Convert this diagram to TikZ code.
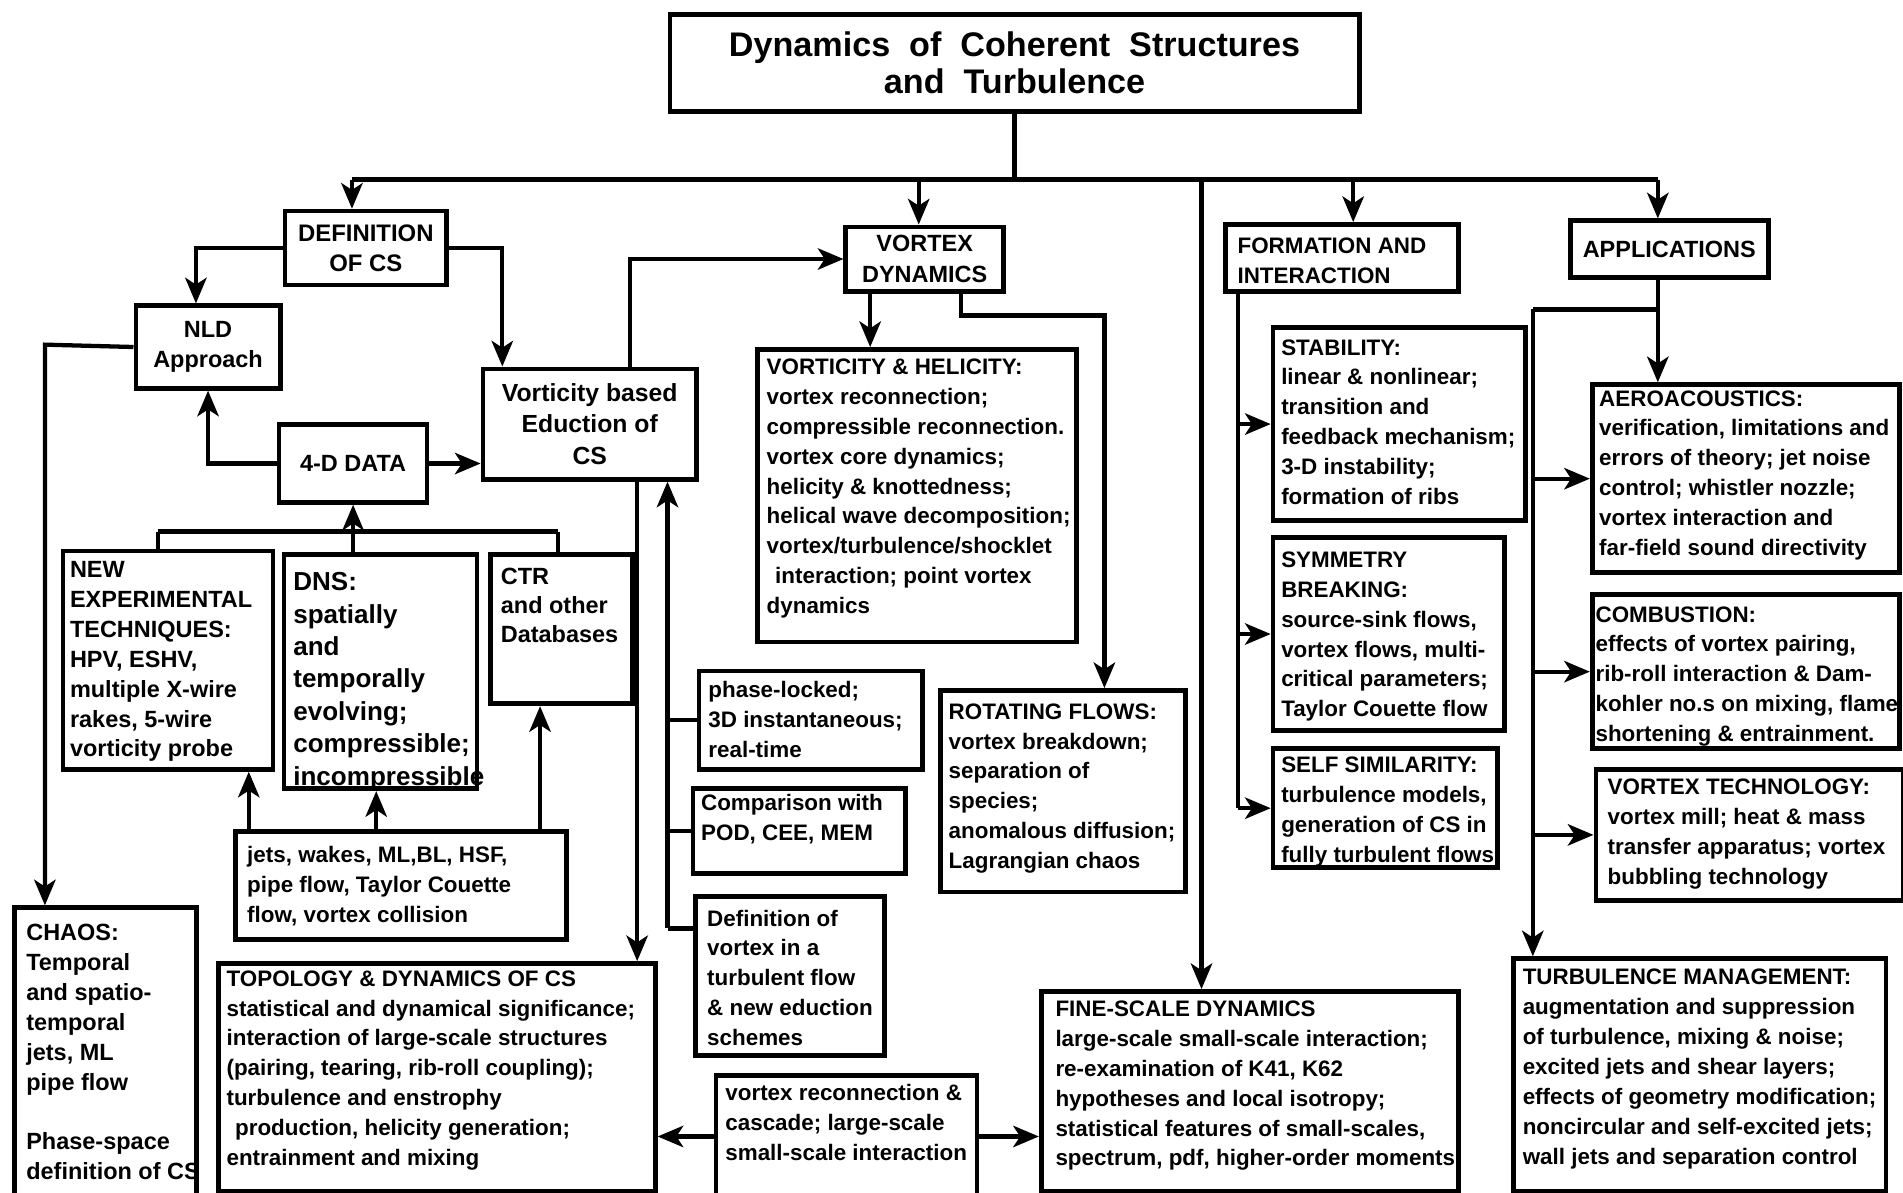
\documentclass[tikz,border=0pt]{standalone}
\usepackage{fontspec}
\setmainfont{Liberation Sans}
\usetikzlibrary{arrows.meta}
\newcommand\mybx[7]{\node[boxs,#2,minimum width={(#5-#3)*0.01cm},minimum height={(#6-#4)*0.01cm}] (#1) at (#3,#4) {#7};}
\begin{document}
\begin{tikzpicture}[x=0.01cm,y=-0.01cm,
  boxs/.style={draw, line width=1.1pt, anchor=north west, inner sep=0pt, align=center,
    font=\fontsize{5.5}{7.1}\selectfont\bfseries},
  txt/.style={anchor=north west, inner sep=0pt, align=left,
    font=\fontsize{5.25}{7}\selectfont\bfseries},
  ln/.style={line width=1pt},
  arr/.style={line width=1pt, -{Stealth[length=6pt,width=5pt,inset=1.6pt]}},
]
\useasboundingbox (0,0) rectangle (1568,983);
\fill[white] (0,0) rectangle (1568,983);
\clip (0,0) rectangle (1568,983);

% ---------- boxes ----------
\mybx{title}{font=\fontsize{8}{8.6}\selectfont\bfseries}{550}{10}{1118}{90}{Dynamics \ of \ Coherent \ Structures\\and \ Turbulence}
\mybx{def}{font=\fontsize{5.6}{7.1}\selectfont\bfseries}{233}{172}{366}{233}{DEFINITION\\OF CS}
\mybx{nld}{}{110}{250}{229}{318}{NLD\\Approach}
\mybx{data}{}{228}{348}{350}{412}{4-D DATA}
\mybx{veduc}{font=\fontsize{5.8}{7.3}\selectfont\bfseries}{396}{302}{572}{393}{Vorticity based\\Eduction of\\CS}
\mybx{vdyn}{}{695}{185}{825}{238}{VORTEX\\DYNAMICS}
\mybx{form}{}{1008}{183}{1200}{238}{}
\mybx{appl}{}{1292}{180}{1455}{227}{APPLICATIONS}
\mybx{newexp}{}{50}{452}{223}{632}{}
\mybx{dns}{}{232}{455}{391}{648}{}
\mybx{ctr}{}{402}{455}{519}{578}{}
\mybx{jets}{}{192}{683}{465}{772}{}
\mybx{chaos}{}{10}{746}{160}{995}{}
\mybx{topo}{}{178}{792}{538}{980}{}
\mybx{phase}{}{574}{551}{758}{632}{}
\mybx{comp}{}{569}{648}{744}{718}{}
\mybx{defv}{}{571}{737}{727}{868}{}
\mybx{vrec}{}{588}{884}{803}{985}{}
\mybx{fine}{}{856}{815}{1200}{980}{}
\mybx{vhel}{}{622}{286}{885}{527}{}
\mybx{rot}{}{773}{567}{975}{733}{}
\mybx{stab}{}{1047}{268}{1255}{427}{}
\mybx{sym}{}{1047}{441}{1238}{600}{}
\mybx{self}{}{1047}{615}{1232}{713}{}
\mybx{aero}{}{1310}{315}{1563}{470}{}
\mybx{comb}{}{1310}{488}{1563}{615}{}
\mybx{vtech}{}{1313}{632}{1566}{740}{}
\mybx{turb}{}{1245}{788}{1552}{980}{}

% ---------- texts ----------
\node[txt] (form-t) at (1019,195) {FORMATION AND\\INTERACTION};
\node[txt, font=\fontsize{5.5}{7}\selectfont\bfseries] (newexp-t) at (57,462) {NEW\\EXPERIMENTAL\\TECHNIQUES:\\HPV, ESHV,\\multiple X-wire\\rakes, 5-wire\\vorticity probe};
\node[txt, font=\fontsize{6.1}{7.6}\selectfont\bfseries] (dns-t) at (241,471) {DNS:\\spatially\\and\\temporally\\evolving;\\compressible;\\incompressible};
\node[txt, font=\fontsize{5.5}{6.9}\selectfont\bfseries] (ctr-t) at (412,467) {CTR\\and other\\Databases};
\node[txt] (jets-t) at (203,697) {jets, wakes, ML,BL, HSF,\\pipe flow, Taylor Couette\\flow, vortex collision};
\node[txt, font=\fontsize{5.5}{7}\selectfont\bfseries] (chaos-t) at (21,761) {CHAOS:\\Temporal\\and spatio-\\temporal\\jets, ML\\pipe flow\\[7pt]Phase-space\\definition of CS};
\node[txt] (topo-t) at (186,799) {TOPOLOGY \& DYNAMICS OF CS\\statistical and dynamical significance;\\interaction of large-scale structures\\(pairing, tearing, rib-roll coupling);\\turbulence and enstrophy\\\hspace*{2pt}production, helicity generation;\\entrainment and mixing};
\node[txt] (phase-t) at (583,561) {phase-locked;\\3D instantaneous;\\real-time};
\node[txt] (comp-t) at (577,654) {Comparison with\\POD, CEE, MEM};
\node[txt] (defv-t) at (582,749) {Definition of\\vortex in a\\turbulent flow\\\& new eduction\\schemes};
\node[txt] (vrec-t) at (597,893) {vortex reconnection \&\\cascade; large-scale\\small-scale interaction};
\node[txt] (fine-t) at (869,824) {FINE-SCALE DYNAMICS\\large-scale small-scale interaction;\\re-examination of K41, K62\\hypotheses and local isotropy;\\statistical features of small-scales,\\spectrum, pdf, higher-order moments};
\node[txt] (vhel-t) at (631,295) {VORTICITY \& HELICITY:\\vortex reconnection;\\compressible reconnection.\\vortex core dynamics;\\helicity \& knottedness;\\helical wave decomposition;\\vortex/turbulence/shocklet\\\hspace*{2pt}interaction; point vortex\\dynamics};
\node[txt] (rot-t) at (781,579) {ROTATING FLOWS:\\vortex breakdown;\\separation of\\species;\\anomalous diffusion;\\Lagrangian chaos};
\node[txt] (stab-t) at (1055,279) {STABILITY:\\linear \& nonlinear;\\transition and\\feedback mechanism;\\3-D instability;\\formation of ribs};
\node[txt] (sym-t) at (1055,454) {SYMMETRY\\BREAKING:\\source-sink flows,\\vortex flows, multi-\\critical parameters;\\Taylor Couette flow};
\node[txt] (self-t) at (1055,623) {SELF SIMILARITY:\\turbulence models,\\generation of CS in\\fully turbulent flows};
\node[txt] (aero-t) at (1317,321) {AEROACOUSTICS:\\verification, limitations and\\errors of theory; jet noise\\control; whistler nozzle;\\vortex interaction and\\far-field sound directivity};
\node[txt] (comb-t) at (1314,499) {COMBUSTION:\\effects of vortex pairing,\\rib-roll interaction \& Dam-\\kohler no.s on mixing, flame\\shortening \& entrainment.};
\node[txt] (vtech-t) at (1324,641) {VORTEX TECHNOLOGY:\\vortex mill; heat \& mass\\transfer apparatus; vortex\\bubbling technology};
\node[txt] (turb-t) at (1254,798) {TURBULENCE MANAGEMENT:\\augmentation and suppression\\of turbulence, mixing \& noise;\\excited jets and shear layers;\\effects of geometry modification;\\noncircular and self-excited jets;\\wall jets and separation control};

% ---------- connectors ----------
% title and main bus
\coordinate (bL) at (290,148);
\coordinate (bR) at (1366,148);
\coordinate (bF) at (1115,148);
\coordinate (bS) at (990,148);
\coordinate (bV) at (757,148);
\draw[ln] (title.south) -- (title.south |- bL);
\draw[ln] (bL) -- (bR);
\draw[arr] (bL) -- (bL |- def.north);
\draw[arr] (bV) -- (bV |- vdyn.north);
\draw[arr] (bF) -- (bF |- form.north);
\draw[arr] (bR) -- (bR |- appl.north);
\draw[arr] (bS) -- (bS |- fine.north);

% definition of CS
\draw[arr] (def.west) -| ([xshift=-0.1cm]nld.north);
\draw[arr] (def.east) -| ([xshift=-0.72cm]veduc.north);
% 4-D data
\draw[arr] (data.west) -| (nld.south);
\draw[arr] (data.east) -- (veduc.west |- data.east);
\coordinate (dbL) at (130,438);
\coordinate (dbR) at (460,438);
\draw[ln] (dbL) -- (dbR);
\draw[ln] (dbL) -- (dbL |- newexp.north);
\draw[ln] (dbR) -- (dbR |- ctr.north);
\draw[arr] (dns.north -| data.south) -- (data.south);
% NLD -> chaos
\coordinate (cL) at (37,284);
\draw[arr] (nld.west) -- (cL) -- (cL |- chaos.north);
% jets -> data sources
\coordinate (j1) at (205,683);
\coordinate (j2) at (310,683);
\coordinate (j3) at (445,683);
\draw[arr] (j1) -- (j1 |- newexp.south);
\draw[arr] (j2) -- (j2 |- dns.south);
\draw[arr] (j3) -- (j3 |- ctr.south);
% eduction -> topology
\coordinate (t1) at (525,393);
\draw[arr] (t1) -- (t1 |- topo.north);
% small boxes -> eduction
\coordinate (s1) at (550,765);
\draw[arr] (s1) -- (s1 |- veduc.south);
\draw[ln] (s1 |- phase.west) -- (phase.west);
\draw[ln] (s1 |- comp.west) -- (comp.west);
\draw[ln] (s1) -- (s1 -| defv.west);
% eduction -> vortex dynamics
\coordinate (v1) at (519,302);
\draw[arr] (v1) |- (vdyn.west);
% vortex dynamics -> children
\coordinate (h1) at (717,238);
\draw[arr] (h1) -- (h1 |- vhel.north);
\coordinate (r1) at (792,238);
\coordinate (r2) at (910,260);
\draw[arr] (r1) |- (r2) -- (r2 |- rot.north);
% formation and interaction
\coordinate (f1) at (1020,238);
\draw[ln] (f1) -- (f1 |- self.west);
\draw[arr] (f1 |- stab.west) -- (stab.west);
\draw[arr] (f1 |- sym.west) -- (sym.west);
\draw[arr] (f1 |- self.west) -- (self.west);
% applications
\coordinate (a1) at (1366,255);
\coordinate (a2) at (1263,255);
\draw[arr] (bR |- appl.south) -- (bR |- aero.north);
\draw[ln] (a1) -- (a2);
\draw[arr] (a2) -- (a2 |- turb.north);
\draw[arr] (a2 |- aero.west) -- (aero.west);
\draw[arr] (a2 |- comb.west) -- (comb.west);
\draw[arr] (a2 |- vtech.west) -- (vtech.west);
% vortex reconnection box
\draw[arr] (vrec.west) -- (vrec.west -| topo.east);
\draw[arr] (vrec.east) -- (vrec.east -| fine.west);
\end{tikzpicture}
\end{document}
